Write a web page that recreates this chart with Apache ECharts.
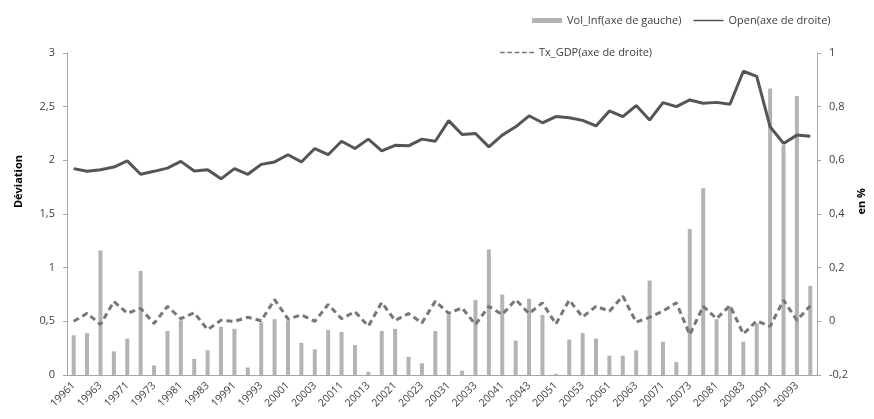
<!DOCTYPE html>
<html>
<head>
<meta charset="utf-8">
<script src="https://cdn.jsdelivr.net/npm/echarts@6/dist/echarts.min.js"></script>
<style>
html, body { margin: 0; padding: 0; background: #fff; }
#main { width: 874px; height: 419px; }
</style>
</head>
<body>
<div id="main"></div>
<script>
// trimestres 1996T1 .. 2009T4, libellés "aaaat"
var years = [1996, 1997, 1998, 1999, 2000, 2001, 2002, 2003, 2004, 2005, 2006, 2007, 2008, 2009];
var quarters = [];
years.forEach(function (y) {
    for (var q = 1; q <= 4; q++) quarters.push('' + y + q);
});

// Vol_Inf (axe de gauche)
var volInf = [0.37, 0.39, 1.16, 0.22, 0.34, 0.97, 0.09, 0.41, 0.51, 0.15, 0.23, 0.45, 0.43, 0.07,
    0.49, 0.52, 0.51, 0.30, 0.24, 0.42, 0.40, 0.28, 0.03, 0.41, 0.43, 0.17, 0.11, 0.41,
    0.56, 0.04, 0.70, 1.17, 0.75, 0.32, 0.71, 0.56, 0.01, 0.33, 0.39, 0.34, 0.18, 0.18,
    0.23, 0.88, 0.31, 0.12, 1.36, 1.74, 0.52, 0.64, 0.31, 0.48, 2.67, 2.14, 2.60, 0.83];

// Open (axe de droite)
var openVals = [0.569, 0.559, 0.565, 0.575, 0.598, 0.548, 0.559, 0.571, 0.596, 0.560, 0.565, 0.531, 0.569, 0.548,
    0.585, 0.594, 0.621, 0.594, 0.644, 0.621, 0.671, 0.644, 0.679, 0.635, 0.656, 0.654, 0.679, 0.671,
    0.748, 0.696, 0.700, 0.650, 0.694, 0.725, 0.766, 0.740, 0.763, 0.759, 0.749, 0.728, 0.784, 0.763,
    0.804, 0.750, 0.815, 0.800, 0.825, 0.813, 0.816, 0.809, 0.932, 0.913, 0.725, 0.663, 0.694, 0.690];

// Tx_GDP (axe de droite)
var txGdp = [0.000, 0.030, -0.012, 0.074, 0.030, 0.048, -0.008, 0.056, 0.010, 0.032, -0.031, 0.004, 0.000, 0.015,
    0.002, 0.081, 0.009, 0.024, 0.000, 0.063, 0.010, 0.036, -0.018, 0.070, 0.003, 0.029, -0.006, 0.075,
    0.030, 0.050, -0.012, 0.056, 0.025, 0.081, 0.029, 0.069, -0.010, 0.079, 0.016, 0.056, 0.038, 0.094,
    -0.003, 0.015, 0.038, 0.069, -0.050, 0.056, 0.010, 0.059, -0.047, 0.002, -0.019, 0.079, 0.004, 0.058];

var FONT = '"Open Sans", sans-serif';
var TXT = '#404040';
var AXIS = '#a6a6a6';

// icônes de légende : trait plein et trait pointillé fins
var ICON_LINE = 'path://M0,0h30v1.5h-30z';
var ICON_DASH = 'path://M0,0h4.5v1.5h-4.5z M7,0h4.5v1.5h-4.5z M14,0h4.5v1.5h-4.5z M21,0h4.5v1.5h-4.5z M28,0h4.5v1.5h-4.5z';

function comma(v) {
    return String(Math.round(v * 10) / 10).replace('.', ',');
}

var chart = echarts.init(document.getElementById('main'));

var option = {
    animation: false,
    textStyle: {fontFamily: FONT},
    grid: {left: 67, right: 57, top: 53, bottom: 44, containLabel: false},
    legend: [
        {
            left: 527, top: 10,
            itemWidth: 30, itemHeight: 5, itemGap: 12,
            symbolKeepAspect: true,
            textStyle: {color: TXT, fontSize: 11, fontFamily: FONT},
            data: [
                {name: 'Vol_Inf(axe de gauche)', icon: 'rect'},
                {name: 'Open(axe de droite)', icon: ICON_LINE}
            ]
        },
        {
            left: 495, top: 42,
            itemWidth: 34, itemHeight: 5,
            symbolKeepAspect: true,
            textStyle: {color: TXT, fontSize: 11, fontFamily: FONT},
            data: [{name: 'Tx_GDP(axe de droite)', icon: ICON_DASH}]
        }
    ],
    xAxis: {
        type: 'category',
        data: quarters,
        boundaryGap: true,
        axisLine: {lineStyle: {color: AXIS, width: 1}},
        axisTick: {show: false},
        axisLabel: {
            interval: 1,
            rotate: 45,
            color: TXT,
            fontSize: 10.5,
            margin: 9
        }
    },
    yAxis: [
        {
            type: 'value',
            min: 0, max: 3, interval: 0.5,
            splitLine: {show: false},
            axisLine: {show: true, lineStyle: {color: AXIS}},
            axisTick: {show: true, length: 4, lineStyle: {color: AXIS}},
            axisLabel: {color: TXT, fontSize: 11, margin: 12, formatter: comma}
        },
        {
            type: 'value',
            min: -0.2, max: 1, interval: 0.2,
            splitLine: {show: false},
            axisLine: {show: true, lineStyle: {color: AXIS}},
            axisTick: {show: true, length: 4, lineStyle: {color: AXIS}},
            axisLabel: {color: TXT, fontSize: 11, margin: 12, formatter: comma}
        }
    ],
    graphic: [
        {
            type: 'text', left: 13, top: 155, rotation: Math.PI / 2,
            style: {text: 'Déviation', fill: '#000', font: 'bold 11px ' + FONT}
        },
        {
            type: 'text', left: 856, top: 188, rotation: Math.PI / 2,
            style: {text: 'en %', fill: '#000', font: 'bold 11px ' + FONT}
        }
    ],
    series: [
        {
            name: 'Vol_Inf(axe de gauche)',
            type: 'bar',
            yAxisIndex: 0,
            barWidth: 4,
            itemStyle: {color: '#b3b3b3'},
            data: volInf
        },
        {
            name: 'Open(axe de droite)',
            type: 'line',
            yAxisIndex: 1,
            symbol: 'none',
            lineStyle: {color: '#555555', width: 3},
            itemStyle: {color: '#555555'},
            data: openVals
        },
        {
            name: 'Tx_GDP(axe de droite)',
            type: 'line',
            yAxisIndex: 1,
            symbol: 'none',
            lineStyle: {color: '#777777', width: 3, type: [6, 4]},
            itemStyle: {color: '#777777'},
            data: txGdp
        }
    ]
};

chart.setOption(option);
</script>
</body>
</html>
